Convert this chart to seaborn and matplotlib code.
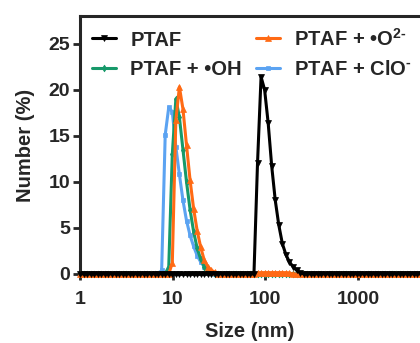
import numpy as np
import pandas as pd
import matplotlib
matplotlib.use("Agg")
import matplotlib.pyplot as plt
import seaborn as sns

# DLS size classes (log spaced measurement grid, nm)
n_bins = 97
size_nm = np.logspace(0, 3.6768, n_bins)

# Number distributions (%): first bin index + values, zeros elsewhere
ptaf_start = 49
ptaf_vals = [0, 12.0, 21.4, 20.0, 16.4, 11.7, 8.0, 5.3, 3.3, 2.1, 1.3, 0.8, 0.4, 0.15, 0]

oh_start = 24
oh_vals = [0, 0.8, 13.0, 19.0, 17.0, 13.5, 10.0, 7.0, 4.6, 2.8, 1.6, 0.8, 0.35, 0.1, 0]

o2_start = 25
o2_vals = [0, 1.2, 16.7, 20.3, 17.9, 14.0, 10.2, 7.1, 4.7, 2.9, 1.5, 0.8, 0.4, 0.2, 0]
o2_bump_start = 50
o2_bump_vals = [0.1, 0.15, 0.15, 0.15, 0.15, 0.15, 0.15, 0.15, 0.15, 0.1]

clo_start = 22
clo_vals = [0, 0.4, 15.1, 18.1, 17.6, 13.8, 10.8, 8.0, 5.8, 4.2, 3.0, 2.0, 1.3, 0.8, 0.4, 0.2, 0.05, 0]

labels = ["PTAF", "PTAF + •OH", "PTAF + •O$^{\\mathbf{2\u2010}}$", "PTAF + ClO$^{\\mathbf{\u2010}}$"]
colors = ["#000000", "#17996a", "#ff6a14", "#5ba3f2"]
markers = ["v", "d", "^", "s"]
msizes = [4.5, 3.5, 5, 3.5]


def fill(start, vals, extra=None):
    y = np.zeros(n_bins)
    y[start:start + len(vals)] = vals
    if extra is not None:
        s, v = extra
        y[s:s + len(v)] = v
    return y


series = [
    fill(ptaf_start, ptaf_vals),
    fill(oh_start, oh_vals),
    fill(o2_start, o2_vals, (o2_bump_start, o2_bump_vals)),
    fill(clo_start, clo_vals),
]

sns.set_style("ticks")
plt.rcParams["font.family"] = ["Liberation Sans", "DejaVu Sans"]
plt.rcParams["font.weight"] = "bold"
plt.rcParams["mathtext.fontset"] = "custom"
plt.rcParams["mathtext.rm"] = "Liberation Sans:bold"
plt.rcParams["mathtext.bf"] = "Liberation Sans:bold"

fig = plt.figure(figsize=(4.2, 3.43), dpi=100)
ax = fig.add_axes([80 / 420, 69 / 343, 340 / 420, 258 / 343])

# draw back to front: ClO-, OH, O2-, then PTAF on top
for i in [3, 1, 2, 0]:
    df = pd.DataFrame({"size": size_nm, "number": series[i]})
    sns.lineplot(data=df, x="size", y="number", ax=ax, color=colors[i],
                 marker=markers[i], markersize=msizes[i], markeredgecolor=colors[i],
                 markeredgewidth=0.5, linewidth=2.2, label=labels[i],
                 clip_on=False, zorder=3 + (i == 0))

ax.set_xscale("log")
ax.set_xlim(1, 4656)
ax.set_ylim(0, 28)
ax.set_xticks([1, 10, 100, 1000])
ax.set_xticklabels(["1", "10", "100", "1000"])
ax.xaxis.set_minor_locator(matplotlib.ticker.NullLocator())
ax.set_yticks([0, 5, 10, 15, 20, 25])

ax.tick_params(axis="y", length=5, width=2, pad=2, labelsize=14)
ax.tick_params(axis="x", length=4, width=2, pad=8, labelsize=14)
for t in ax.get_xticklabels() + ax.get_yticklabels():
    t.set_fontweight("bold")

for side in ["left", "top", "bottom"]:
    ax.spines[side].set_linewidth(2.2)
ax.spines["right"].set_visible(False)

ax.set_xlabel("Size (nm)", fontsize=14.5, fontweight="bold", labelpad=10)
ax.set_ylabel("Number (%)", fontsize=14.5, fontweight="bold", labelpad=10)

handles, labs = ax.get_legend_handles_labels()
order = [labs.index(l) for l in labels]
ax.legend([handles[j] for j in order], [labs[j] for j in order],
          loc="upper left", bbox_to_anchor=(0.035, 0.955), ncol=2,
          frameon=False, handlelength=1.2, handletextpad=0.7,
          columnspacing=0.7, labelspacing=0.5, borderaxespad=0, borderpad=0,
          prop={"weight": "bold", "size": 14.5})

fig.savefig("out.png", dpi=100)
